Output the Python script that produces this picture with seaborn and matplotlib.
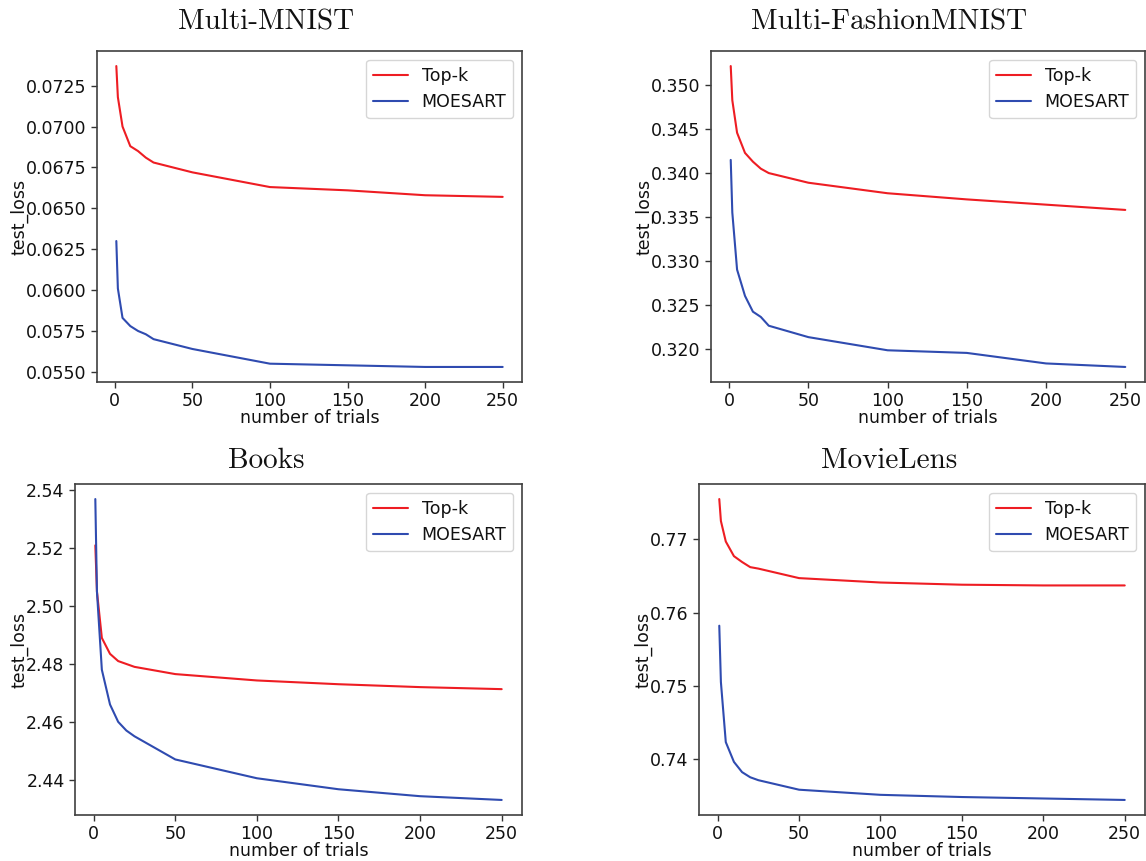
import numpy as np
import pandas as pd
import matplotlib
matplotlib.use("Agg")
import matplotlib.pyplot as plt
import seaborn as sns

sns.set_style("ticks")
plt.rcParams['font.family'] = ['DejaVu Sans']

trials = [1, 2, 5, 10, 15, 20, 25, 50, 100, 150, 200, 250]

titles = ["Multi-MNIST", "Multi-FashionMNIST", "Books", "MovieLens"]

mnist_topk = [0.0737, 0.0718, 0.0700, 0.0688, 0.0685, 0.0681, 0.0678, 0.0672, 0.0663, 0.0661, 0.0658, 0.0657]
mnist_moesart = [0.0630, 0.0601, 0.0583, 0.0578, 0.0575, 0.0573, 0.0570, 0.0564, 0.0555, 0.0554, 0.0553, 0.0553]

fashion_topk = [0.3522, 0.3483, 0.3446, 0.3423, 0.3413, 0.3405, 0.3400, 0.3389, 0.3377, 0.3370, 0.3364, 0.3358]
fashion_moesart = [0.3415, 0.3355, 0.3290, 0.3260, 0.3242, 0.3236, 0.3226, 0.3213, 0.3198, 0.3195, 0.3183, 0.3179]

books_topk = [2.521, 2.505, 2.489, 2.4835, 2.481, 2.480, 2.479, 2.4765, 2.4743, 2.473, 2.472, 2.4713]
books_moesart = [2.537, 2.505, 2.478, 2.466, 2.460, 2.457, 2.455, 2.447, 2.4405, 2.4367, 2.4343, 2.4330]

movie_topk = [0.7755, 0.7725, 0.7697, 0.7677, 0.7669, 0.7662, 0.7660, 0.7647, 0.7641, 0.7638, 0.7637, 0.7637]
movie_moesart = [0.7582, 0.7505, 0.7423, 0.7396, 0.7382, 0.7375, 0.7371, 0.7358, 0.7351, 0.7348, 0.7346, 0.7344]

series = [(mnist_topk, mnist_moesart), (fashion_topk, fashion_moesart),
          (books_topk, books_moesart), (movie_topk, movie_moesart)]

yticks = [
    [0.0550, 0.0575, 0.0600, 0.0625, 0.0650, 0.0675, 0.0700, 0.0725],
    [0.320, 0.325, 0.330, 0.335, 0.340, 0.345, 0.350],
    [2.44, 2.46, 2.48, 2.50, 2.52, 2.54],
    [0.74, 0.75, 0.76, 0.77],
]
yfmt = ["{:.4f}", "{:.3f}", "{:.2f}", "{:.2f}"]

W, H = 1146, 861
boxes = [
    (97, 51, 522, 382),
    (711, 51, 1145, 382),
    (75, 484, 522, 815),
    (699, 484, 1145, 815),
]
title_pos = [(266, 22), (889, 22), (266, 461), (889, 461)]

red = "#ee1d23"
blue = "#2f4bb0"
fs = 12.5

fig = plt.figure(figsize=(W / 100, H / 100), dpi=100)
for i, (l, t, r, b) in enumerate(boxes):
    ax = fig.add_axes([l / W, 1 - b / H, (r - l) / W, (b - t) / H])
    topk, moe = series[i]
    df = pd.DataFrame({"trials": trials, "topk": topk, "moe": moe})
    sns.lineplot(data=df, x="trials", y="topk", color=red, label="Top-k", ax=ax, linewidth=1.5)
    sns.lineplot(data=df, x="trials", y="moe", color=blue, label="MOESART", ax=ax, linewidth=1.5)
    ax.set_xticks([0, 50, 100, 150, 200, 250])
    ax.set_yticks(yticks[i])
    ax.set_yticklabels([yfmt[i].format(v) for v in yticks[i]])
    ax.tick_params(labelsize=fs, color="#333333", labelcolor="#111111", length=4, width=1)
    ax.set_xlabel("number of trials", fontsize=fs, labelpad=-1, color="#111111")
    ax.set_ylabel("test_loss", fontsize=fs, color="#111111", labelpad=-2)
    for s in ax.spines.values():
        s.set_visible(True)
        s.set_color("#404040")
        s.set_linewidth(1.2)
    ax.legend(loc="upper right", fontsize=fs, frameon=True, edgecolor="#cccccc",
              handlelength=2.0, labelcolor="#111111")
    tx, ty = title_pos[i]
    fig.text(tx / W, 1 - ty / H, titles[i], fontfamily="cmr10", fontsize=21,
             ha="center", va="center", color="#111111")

fig.savefig("out.png", dpi=100)
